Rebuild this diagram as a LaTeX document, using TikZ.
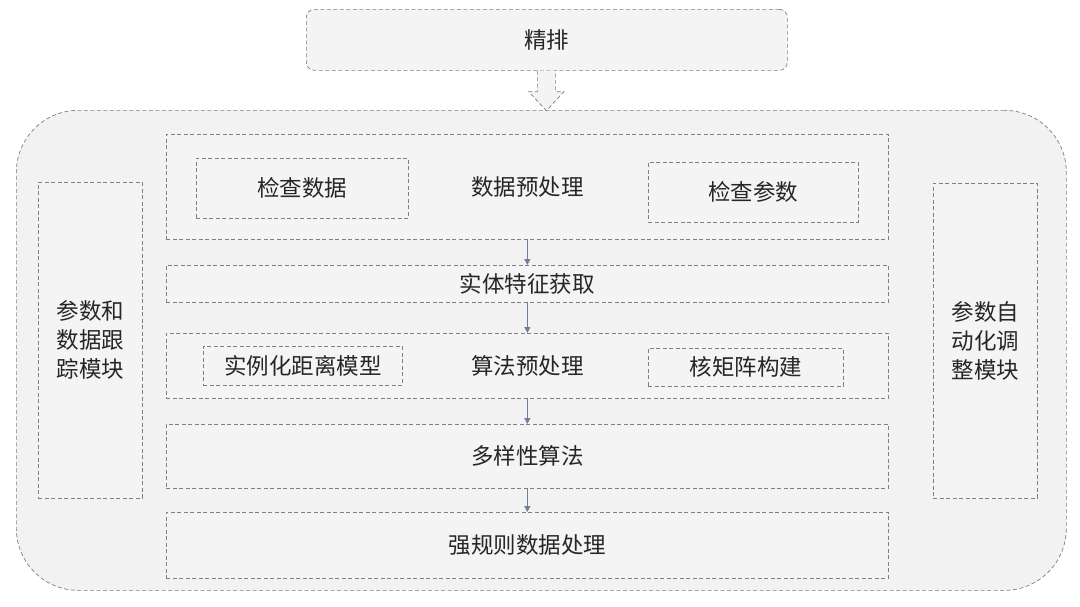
\documentclass[tikz,border=0pt]{standalone}
\usepackage{fontspec}
\setmainfont{Noto Sans CJK SC}
\usetikzlibrary{arrows.meta,calc}
\definecolor{boxfill}{HTML}{F4F4F4}
\definecolor{outerfill}{HTML}{F2F2F2}
\definecolor{dashc}{HTML}{7F7F7F}
\definecolor{arrc}{HTML}{6F7F99}
\begin{document}
\begin{tikzpicture}[x=1pt,y=-1pt,
  dline/.style={draw=dashc,dash pattern=on 4pt off 2.5pt,line width=0.7pt},
  dbox/.style={dline,fill=boxfill,
    anchor=north west,inner sep=0pt,align=center,font=\fontsize{22.5}{29}\selectfont,text=black!85},
  flow/.style={draw=arrc,line width=1pt,-{Triangle[length=6pt,width=6pt]}}]
\useasboundingbox (0,0) rectangle (1080,606);
\fill[white] (0,0) rectangle (1080,606);
% top box
\node[dbox,rounded corners=8pt,minimum width=481pt,minimum height=61pt] (top) at (306,9) {精排};
% outer container
\node[dbox,fill=outerfill,rounded corners=62pt,minimum width=1050pt,minimum height=480pt] (outer) at (16,110) {};
% hollow arrow
\coordinate (ha) at ($(top.south)+(-0.5,0)$);
\draw[dline,fill=boxfill] ($(ha)+(-9,0)$) -- ($(ha)+(-9,21)$) -- ($(ha)+(-17.5,21)$) -- ($(ha)+(0,40)$)
  -- ($(ha)+(17.5,21)$) -- ($(ha)+(9,21)$) -- ($(ha)+(9,0)$);
% rows
\node[dbox,minimum width=722pt,minimum height=105pt] (pre) at (166,134) {数据预处理};
\node[dbox,minimum width=212pt,minimum height=60pt] (chkd) at (196,158) {检查数据};
\node[dbox,minimum width=210pt,minimum height=60pt] (chkp) at (648,162) {检查参数};
\node[dbox,minimum width=722pt,minimum height=37pt] (feat) at (166,265) {实体特征获取};
\node[dbox,minimum width=722pt,minimum height=65pt] (algpre) at (166,333) {算法预处理};
\node[dbox,minimum width=199pt,minimum height=39pt] (dist) at (203,346) {实例化距离模型};
\node[dbox,minimum width=195pt,minimum height=38pt] (kern) at (648,348) {核矩阵构建};
\node[dbox,minimum width=722pt,minimum height=64pt] (div) at (166,424) {多样性算法};
\node[dbox,minimum width=722pt,minimum height=66pt] (rule) at (166,512) {强规则数据处理};
% side modules
\node[dbox,minimum width=104pt,minimum height=316pt] (left) at (38,182) {参数和\\数据跟\\踪模块};
\node[dbox,minimum width=104pt,minimum height=315pt] (right) at (933,183) {参数自\\动化调\\整模块};
% flow arrows
\draw[flow] (pre.south) -- (feat.north);
\draw[flow] (feat.south) -- (algpre.north);
\draw[flow] (algpre.south) -- (div.north);
\draw[flow] (div.south) -- (rule.north);
\end{tikzpicture}
\end{document}
